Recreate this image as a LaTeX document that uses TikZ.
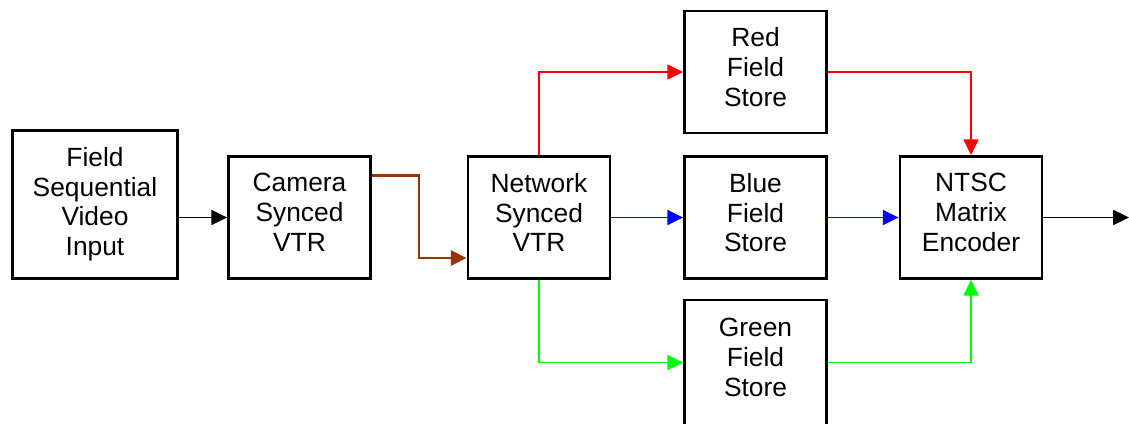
\documentclass[tikz,border=0pt]{standalone}
\usepackage{fontspec}
\setmainfont{Liberation Sans}
\usetikzlibrary{arrows.meta}
\definecolor{vtrbrown}{RGB}{153,51,0}
\definecolor{storegreen}{RGB}{0,255,0}

\begin{document}
\begin{tikzpicture}[x=0.02cm,y=-0.02cm,
    block/.style={draw,line width=1.6pt,minimum width=2.84cm,minimum height=2.44cm,
        align=center,inner sep=0pt,text depth=0.2cm,font=\fontsize{15}{17}\selectfont},
    flow/.style={line width=1.1pt,-{Triangle[length=9pt,width=8.5pt]}}]
    \useasboundingbox (0,0) rectangle (1129,423);

    \node[block,minimum width=3.3cm,minimum height=2.96cm,text depth=0.12cm] (input) at (95,204.5) {Field\\Sequential\\Video\\Input};
    \node[block] (camera) at (299.5,217.5) {Camera\\Synced\\VTR};
    \node[block] (network) at (539,217.5) {Network\\Synced\\VTR};
    \node[block] (red) at (755.5,72) {Red\\Field\\Store};
    \node[block] (blue) at (755.5,217.5) {Blue\\Field\\Store};
    \node[block,minimum height=2.64cm,text depth=0.36cm] (green) at (755.5,366) {Green\\Field\\Store};
    \node[block] (ntsc) at (971,217.5) {NTSC\\Matrix\\Encoder};
    \coordinate (bend) at (419,258);
    \coordinate (out) at (1129,217.5);

    \draw[flow] (input.east |- camera) -- (camera);
    \draw[flow,vtrbrown,line width=1.7pt] ([yshift=0.85cm]camera.east) -| (bend) -- (bend -| network.west);
    \draw[flow,red] (network.north) |- (red);
    \draw[flow,blue] (network) -- (blue);
    \draw[flow,storegreen] (network.south) |- ([yshift=0.07cm]green.west);
    \draw[flow,red] (red) -| (ntsc);
    \draw[flow,blue] (blue) -- (ntsc);
    \draw[flow,storegreen] ([yshift=0.07cm]green.east) -| (ntsc);
    \draw[flow] (ntsc) -- (out);
\end{tikzpicture}
\end{document}
